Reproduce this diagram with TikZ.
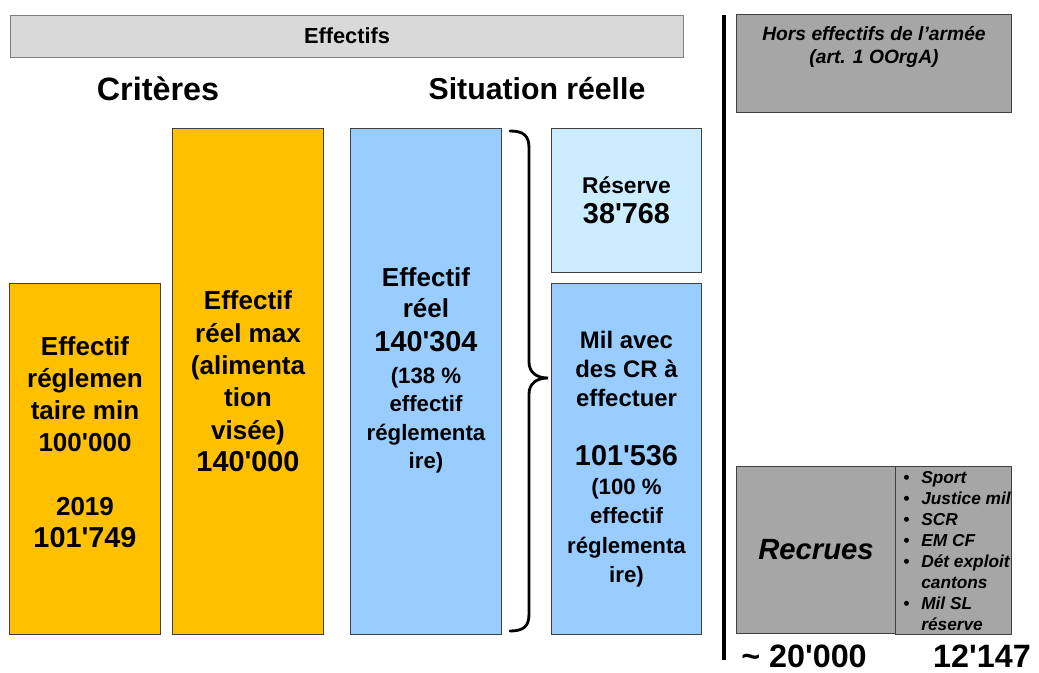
\documentclass[tikz,border=0pt]{standalone}
\usepackage{fontspec}
\setmainfont{Liberation Sans}[Ligatures=TeXOff]
\usetikzlibrary{positioning}

\definecolor{jaune}{HTML}{FFC000}
\definecolor{bleu}{HTML}{99CCFF}
\definecolor{bleuclair}{HTML}{CCECFF}
\definecolor{gris}{HTML}{A6A6A6}
\definecolor{grisclair}{HTML}{D9D9D9}
\definecolor{bord}{HTML}{404040}

\newcommand{\gros}{\fontsize{18.5}{22}\selectfont}
\newcommand{\chiffre}{\fontsize{20.5}{24}\selectfont}
\newcommand{\petit}{\fontsize{15.8}{20}\selectfont}
\newcommand{\puce}{\makebox[12.8pt][l]{\textbullet}}

\begin{document}
\begin{tikzpicture}[x=0.025cm, y=-0.025cm]

\tikzstyle{every node} = [inner sep=0pt, align=center]
\tikzstyle{boite} = [rectangle, draw=bord, line width=0.7pt]
\tikzstyle{critere} = [boite, fill=jaune, minimum width=3.75cm]
\tikzstyle{situation} = [boite, minimum width=3.73cm]
\tikzstyle{hors} = [boite, fill=gris]
\tikzstyle{accolade} = [line width=2pt, line cap=round]

\useasboundingbox (0,0) rectangle (1039,672);

% en-tete
\node[boite, fill=grisclair, draw=gray, minimum width=16.8cm, minimum height=1.05cm,
  font=\fontsize{15.5}{18}\selectfont\bfseries] (effectifs) at (347,36) {Effectifs};
\node[font=\fontsize{23}{26}\selectfont\bfseries] (criteres) at (158,89) {Critères};
\node[font=\fontsize{21.5}{26}\selectfont\bfseries] (situation) at (537,89) {Situation réelle};

% criteres
\node[critere, minimum height=8.75cm] (regmin) at (85,459) {};
\node[font=\fontsize{18.5}{22.7}\selectfont\bfseries] (regmin-txt) at (85,442)
  {Effectif\\ réglemen\\ taire min\\ 100'000\\[22.7pt] 2019\\ {\chiffre 101'749}};
\node[critere, minimum height=12.625cm, font=\fontsize{18.5}{23}\selectfont\bfseries] (reelmax) at (248,381.5)
  {Effectif\\ réel max\\ (alimenta\\ tion\\ visée)\\ {\chiffre 140'000}};

% situation reelle
\node[situation, fill=bleu, minimum width=3.75cm, minimum height=12.625cm] (reel) at (426,381.5) {};
\node[font=\fontsize{15.8}{20}\selectfont\bfseries] (reel-txt) at (426,370)
  {{\gros Effectif}\\[2pt] {\gros réel}\\[4.5pt] {\chiffre 140'304}\\[3pt] (138 \%\\ effectif\\ réglementa\\ ire)};

\node[situation, fill=bleuclair, minimum height=3.575cm, font=\fontsize{16.2}{21}\selectfont\bfseries] (reserve) at (626.5,200.5)
  {Réserve\\ {\chiffre 38'768}};
\node[situation, fill=bleu, minimum height=8.75cm, font=\fontsize{17}{20.8}\selectfont\bfseries] (mil) at (626.5,459)
  {Mil avec\\ des CR à\\ effectuer\\[20.8pt] {\chiffre 101'536}\\ {\petit (100 \%}\\ {\petit effectif}\\ {\petit réglementa}\\ {\petit ire)}};

\coordinate (acc-haut) at (510,131);
\coordinate (acc-pointe) at (548,378);
\coordinate (acc-bas) at (510,631);
\draw[accolade] (acc-haut) .. controls (524,131) and (529,136) .. (529,148) -- (529,362)
  .. controls (529,372) and (536,378) .. (acc-pointe)
  .. controls (536,378) and (529,384) .. (529,394) -- (529,614)
  .. controls (529,626) and (524,631) .. (acc-bas);

% separation
\coordinate (sep-haut) at (724,15);
\coordinate (sep-bas) at (724,660);
\draw[line width=2.2pt] (sep-haut) -- (sep-bas);

% hors effectifs
\node[hors, minimum width=6.85cm, minimum height=2.425cm] (hors) at (874,63.5) {};
\node[font=\fontsize{13.7}{16.3}\selectfont\bfseries\itshape] (hors-txt) at (874,47)
  {Hors effectifs de l’armée\\ (art. 1 OOrgA)};

\node[hors, minimum width=3.95cm, minimum height=4.15cm, font=\fontsize{20.8}{24}\selectfont\bfseries\itshape] (recrues) at (816,550) {Recrues};
\node[hors, minimum width=2.9cm, minimum height=4.175cm] (liste) at (953,550.5) {};
\node[anchor=west, align=left, font=\fontsize{12.3}{14.9}\selectfont\bfseries\itshape] (liste-txt) at (903,551)
  {\puce Sport\\ \puce Justice mil\\ \puce SCR\\ \puce EM CF\\ \puce Dét exploit\\ \hspace*{12.8pt}cantons\\ \puce Mil SL\\ \hspace*{12.8pt}réserve};

\node[anchor=base, font=\fontsize{23}{26}\selectfont\bfseries] (nb-recrues) at (804,667) {\textasciitilde{} 20'000};
\node[anchor=base, font=\fontsize{23}{26}\selectfont\bfseries] (nb-hors) at (982,667) {12'147};

\end{tikzpicture}
\end{document}
